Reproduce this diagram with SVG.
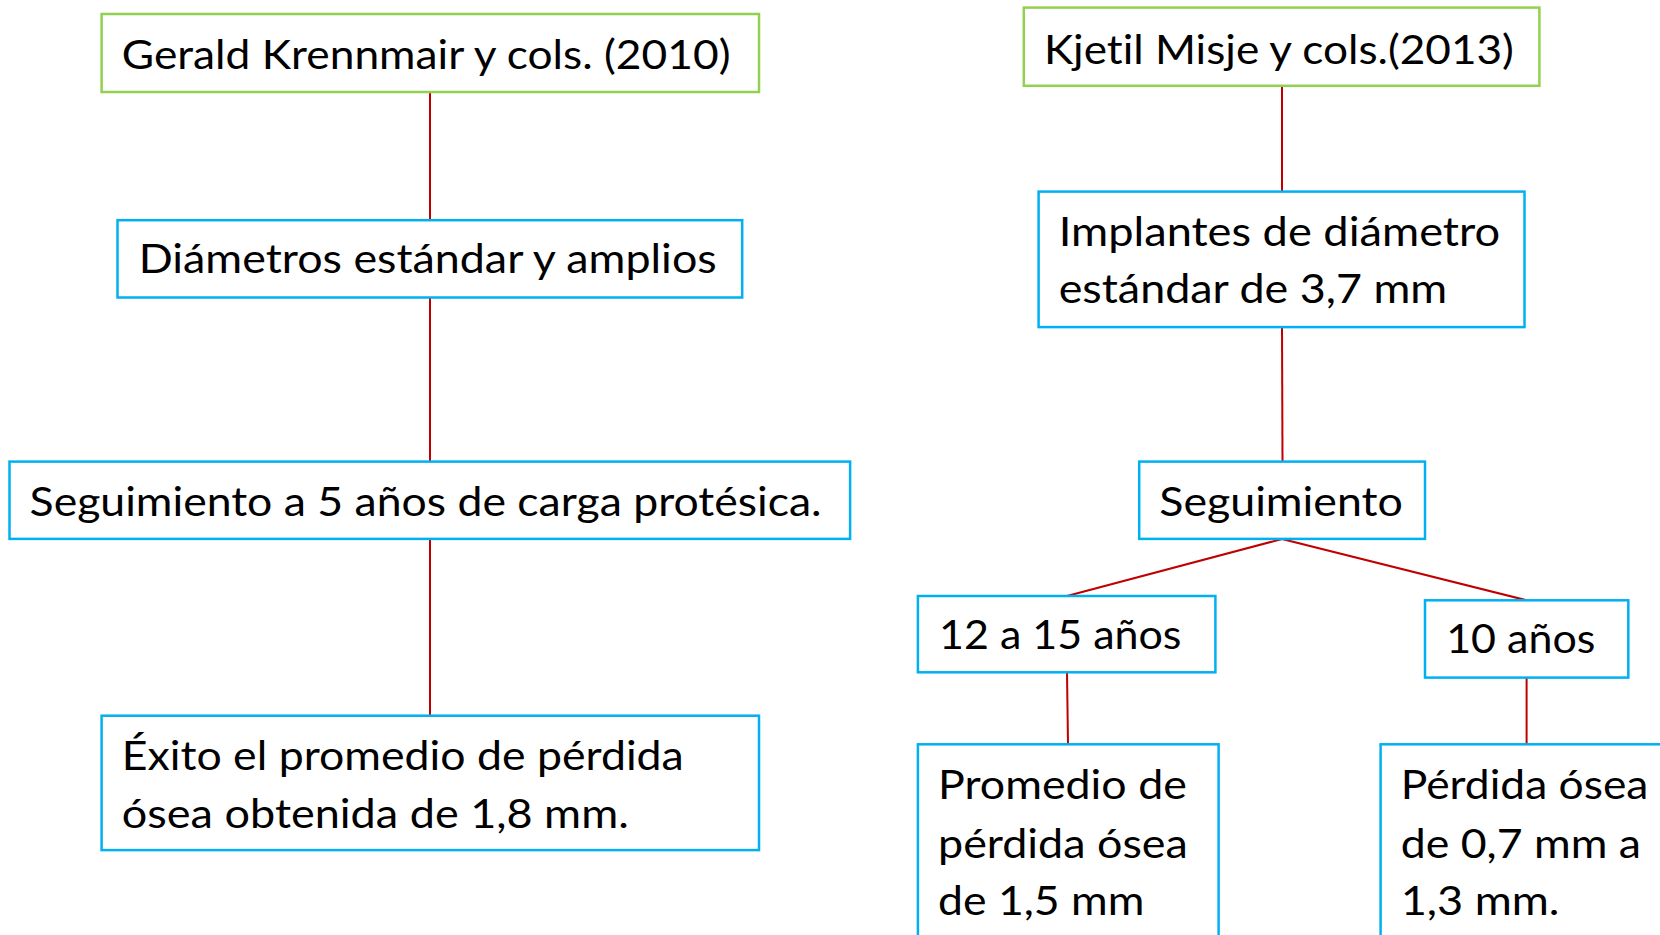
<svg xmlns="http://www.w3.org/2000/svg" width="1660" height="935" viewBox="0 0 1660 935">
<style>
.g{fill:#fff;stroke:#92D050;stroke-width:2.5}
.b{fill:#fff;stroke:#00B0F0;stroke-width:2.5}
.t{font-family:Lato,"Open Sans","Liberation Sans",sans-serif;font-size:40px;fill:#000;font-variant-ligatures:none}
.c{stroke:#C00000;stroke-width:2;fill:none}
</style>
<rect width="1660" height="935" fill="#fff"/>
<g id="connectors">
<line class="c" x1="430" y1="92" x2="430" y2="220"/>
<line class="c" x1="430" y1="297.5" x2="430" y2="461.6"/>
<line class="c" x1="430" y1="539" x2="430" y2="715.7"/>
<line class="c" x1="1282" y1="85.8" x2="1282" y2="191.6"/>
<line class="c" x1="1282" y1="327" x2="1282.5" y2="461.6"/>
<line class="c" x1="1282" y1="539" x2="1067" y2="596"/>
<line class="c" x1="1282" y1="539" x2="1526.6" y2="600.3"/>
<line class="c" x1="1067" y1="672.3" x2="1068" y2="744.3"/>
<line class="c" x1="1526.6" y1="677.6" x2="1526.6" y2="744.3"/>
</g>
<g id="n1"><rect class="g" x="101.6" y="14" width="657.4" height="78"/><text class="t" x="121.8" y="68.8" textLength="608.7" lengthAdjust="spacingAndGlyphs">Gerald Krennmair y cols. (2010)</text></g>
<g id="n2"><rect class="g" x="1023.8" y="7.6" width="515.6" height="78.2"/><text class="t" x="1043.9" y="63.5" textLength="470" lengthAdjust="spacingAndGlyphs">Kjetil Misje y cols.(2013)</text></g>
<g id="n3"><rect class="b" x="117.5" y="220.2" width="624.7" height="77.3"/><text class="t" x="138.7" y="273.1" textLength="578" lengthAdjust="spacingAndGlyphs">Diámetros estándar y amplios</text></g>
<g id="n4"><rect class="b" x="1038.6" y="191.6" width="485.9" height="135.5"/><text class="t" x="1058.7" y="245.6" textLength="441.5" lengthAdjust="spacingAndGlyphs">Implantes de diámetro</text><text class="t" x="1058.7" y="302.8" textLength="388.5" lengthAdjust="spacingAndGlyphs">estándar de 3,7 mm</text></g>
<g id="n5"><rect class="b" x="9.5" y="461.6" width="840.6" height="77.3"/><text class="t" x="29.6" y="515.6" textLength="792" lengthAdjust="spacingAndGlyphs">Seguimiento a 5 años de carga protésica.</text></g>
<g id="n6"><rect class="b" x="1139.2" y="461.6" width="285.8" height="77.3"/><text class="t" x="1159.3" y="515.6" textLength="243.5" lengthAdjust="spacingAndGlyphs">Seguimiento</text></g>
<g id="n7"><rect class="b" x="917.9" y="596" width="297.5" height="76.3"/><text class="t" x="939" y="649" textLength="242.5" lengthAdjust="spacingAndGlyphs">12 a 15 años</text></g>
<g id="n8"><rect class="b" x="1425" y="600.3" width="203.3" height="77.3"/><text class="t" x="1446.2" y="653.2" textLength="149.2" lengthAdjust="spacingAndGlyphs">10 años</text></g>
<g id="n9"><rect class="b" x="101.6" y="715.7" width="657.4" height="134.4"/><text class="t" x="121.8" y="769.7" textLength="562" lengthAdjust="spacingAndGlyphs">Éxito el promedio de pérdida</text><text class="t" x="121.8" y="827.9" textLength="507" lengthAdjust="spacingAndGlyphs">ósea obtenida de 1,8 mm.</text></g>
<g id="n10"><rect class="b" x="917.9" y="744.3" width="300.7" height="220"/><text class="t" x="938" y="799.3" textLength="248.8" lengthAdjust="spacingAndGlyphs">Promedio de</text><text class="t" x="938" y="857.6" textLength="249.8" lengthAdjust="spacingAndGlyphs">pérdida ósea</text><text class="t" x="938" y="914.7" textLength="206.4" lengthAdjust="spacingAndGlyphs">de 1,5 mm</text></g>
<g id="n11"><rect class="b" x="1380.6" y="744.3" width="320" height="220"/><text class="t" x="1400.7" y="799.3" textLength="247.7" lengthAdjust="spacingAndGlyphs">Pérdida ósea</text><text class="t" x="1400.7" y="857.6" textLength="240.3" lengthAdjust="spacingAndGlyphs">de 0,7 mm a</text><text class="t" x="1400.7" y="914.7" textLength="158.8" lengthAdjust="spacingAndGlyphs">1,3 mm.</text></g>
</svg>
